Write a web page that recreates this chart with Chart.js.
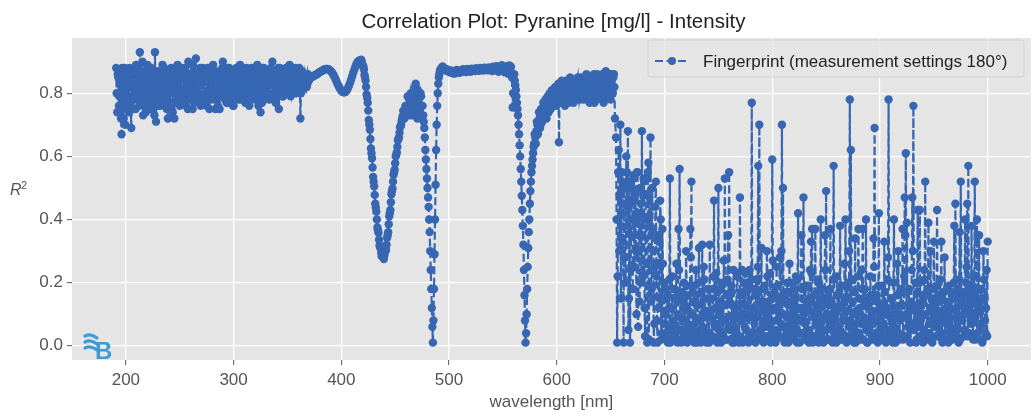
<!DOCTYPE html>
<html>
<head>
<meta charset="utf-8">
<title>Correlation Plot: Pyranine [mg/l] - Intensity</title>
<script src="https://cdn.jsdelivr.net/npm/chart.js@4.4.0/dist/chart.umd.min.js"></script>
<style>
  html, body { margin: 0; padding: 0; background: #fff; }
  #wrap { width: 1035px; height: 419px; }
</style>
</head>
<body>
<div id="wrap"><canvas id="chartCorr" width="1035" height="419"></canvas></div>
<script>
const chartTitle = 'Correlation Plot: Pyranine [mg/l] - Intensity';
const seriesLabel = 'Fingerprint (measurement settings 180°)';
const xLabel = 'wavelength [nm]';
const xTicks = [200, 300, 400, 500, 600, 700, 800, 900, 1000];
const yTicks = [0.0, 0.2, 0.4, 0.6, 0.8];

// R². Each stretch: first wavelength, then one value per nm.
// The "half" stretches sit on the .5 nm positions in between.
const startA = 191; // noisy band 191-371 nm
const r2A = [
  0.88, 0.74, 0.85, 0.79, 0.87, 0.67, 0.83, 0.72, 0.88, 0.76, 0.81, 0.86, 0.74, 0.84, 0.69, 0.87, 0.78, 0.82, 0.75, 0.88,
  0.80, 0.85, 0.93, 0.77, 0.84, 0.73, 0.87, 0.81, 0.76, 0.89, 0.79, 0.84, 0.75, 0.86, 0.82, 0.78, 0.93, 0.71, 0.85, 0.80,
  0.87, 0.76, 0.83, 0.89, 0.78, 0.84, 0.81, 0.75, 0.72, 0.86, 0.80, 0.88, 0.77, 0.83, 0.72, 0.85, 0.79, 0.89, 0.82, 0.76,
  0.84, 0.88, 0.78, 0.81, 0.86, 0.76, 0.83, 0.90, 0.79, 0.85, 0.80, 0.75, 0.87, 0.82, 0.91, 0.78, 0.84, 0.80, 0.88, 0.77,
  0.83, 0.86, 0.79, 0.84, 0.76, 0.88, 0.81, 0.85, 0.78, 0.83, 0.89, 0.80, 0.75, 0.86, 0.82, 0.79, 0.75, 0.87, 0.84, 0.90,
  0.81, 0.78, 0.86, 0.83, 0.77, 0.88, 0.80, 0.85, 0.82, 0.76, 0.87, 0.83, 0.79, 0.86, 0.81, 0.89, 0.78, 0.84, 0.80, 0.85,
  0.77, 0.88, 0.82, 0.79, 0.86, 0.83, 0.78, 0.87, 0.81, 0.85, 0.80, 0.89, 0.76, 0.84, 0.74, 0.86, 0.82, 0.88, 0.79, 0.84,
  0.81, 0.87, 0.78, 0.85, 0.83, 0.90, 0.80, 0.84, 0.77, 0.86, 0.82, 0.75, 0.88, 0.81, 0.85, 0.79, 0.87, 0.83, 0.80, 0.86,
  0.82, 0.89, 0.79, 0.85, 0.81, 0.87, 0.83, 0.80, 0.86, 0.82, 0.88, 0.72, 0.84, 0.81, 0.86, 0.83, 0.85, 0.82, 0.86, 0.84, 0.85
];
const startAHalf = 191.5;
const r2AHalf = [
  0.80, 0.86, 0.76, 0.83, 0.72, 0.88, 0.79, 0.84, 0.70, 0.86, 0.78, 0.83, 0.88, 0.77, 0.82, 0.75, 0.86, 0.80, 0.89, 0.78,
  0.84, 0.76, 0.87, 0.81, 0.90, 0.78, 0.83, 0.74, 0.86, 0.80, 0.84, 0.77, 0.88, 0.79, 0.85, 0.73, 0.82, 0.87, 0.76, 0.84,
  0.79, 0.86, 0.81, 0.77, 0.88, 0.80, 0.85, 0.78, 0.83, 0.76, 0.87, 0.82, 0.74, 0.86, 0.81, 0.79, 0.88, 0.77, 0.84, 0.86,
  0.80, 0.77, 0.85, 0.88, 0.79, 0.83, 0.75, 0.86, 0.81, 0.78, 0.89, 0.83, 0.77, 0.86, 0.80, 0.87, 0.79, 0.85, 0.76, 0.84,
  0.88, 0.79, 0.84, 0.77, 0.86, 0.81, 0.75, 0.83, 0.88, 0.80, 0.85, 0.78, 0.87, 0.82, 0.76, 0.85, 0.83, 0.79, 0.88, 0.80,
  0.86, 0.83, 0.77, 0.88, 0.81, 0.84, 0.78, 0.87, 0.76, 0.85, 0.80, 0.88, 0.83, 0.78, 0.86, 0.82, 0.87, 0.79, 0.85, 0.81,
  0.84, 0.80, 0.87, 0.76, 0.83, 0.88, 0.81, 0.79, 0.86, 0.78, 0.84, 0.82, 0.87, 0.80, 0.85, 0.77, 0.88, 0.83, 0.86, 0.79,
  0.86, 0.80, 0.84, 0.88, 0.79, 0.83, 0.86, 0.78, 0.85, 0.81, 0.88, 0.80, 0.84, 0.86, 0.79, 0.85, 0.82, 0.88, 0.84, 0.80,
  0.86, 0.83, 0.87, 0.80, 0.85, 0.82, 0.88, 0.84, 0.81, 0.86, 0.83, 0.80, 0.87, 0.84, 0.82, 0.86, 0.84, 0.83, 0.85, 0.845, 0.85
];

const startB = 372; // smooth part with the three dips, 372-654 nm
const r2B = [
  // 372-389
  0.850, 0.852, 0.854, 0.856, 0.858, 0.860, 0.862, 0.865, 0.867, 0.869, 0.871, 0.873, 0.875, 0.876, 0.877, 0.877, 0.876, 0.874,
  // 390-404
  0.871, 0.867, 0.862, 0.856, 0.849, 0.841, 0.833, 0.826, 0.819, 0.813, 0.808, 0.805, 0.803, 0.803, 0.805,
  // 405-420
  0.809, 0.815, 0.823, 0.832, 0.842, 0.853, 0.864, 0.874, 0.884, 0.892, 0.898, 0.902, 0.904, 0.903, 0.898, 0.888,
  // 421-440
  0.875, 0.850, 0.820, 0.785, 0.745, 0.700, 0.655, 0.610, 0.565, 0.520, 0.478, 0.438, 0.400, 0.366, 0.336, 0.312, 0.294, 0.283, 0.280, 0.287,
  // 441-460
  0.300, 0.320, 0.350, 0.385, 0.420, 0.455, 0.490, 0.520, 0.550, 0.578, 0.605, 0.630, 0.655, 0.675, 0.695, 0.712, 0.728, 0.742, 0.735, 0.755,
  // 461-480
  0.76, 0.74, 0.78, 0.75, 0.79, 0.73, 0.80, 0.76, 0.83, 0.74, 0.81, 0.77, 0.75, 0.79, 0.72, 0.73, 0.69, 0.62, 0.56, 0.50,
  // 481-500
  0.44, 0.36, 0.24, 0.12, 0.01, 0.18, 0.40, 0.62, 0.76, 0.83, 0.86, 0.875, 0.88, 0.885, 0.88, 0.878, 0.872, 0.876, 0.87, 0.868,
  // 501-530
  0.866, 0.872, 0.864, 0.870, 0.862, 0.868, 0.874, 0.866, 0.871, 0.865, 0.873, 0.868, 0.876, 0.869, 0.874,
  0.867, 0.877, 0.871, 0.875, 0.868, 0.878, 0.872, 0.876, 0.870, 0.879, 0.873, 0.877, 0.871, 0.880, 0.874,
  // 531-560
  0.878, 0.872, 0.881, 0.875, 0.879, 0.873, 0.882, 0.876, 0.880, 0.870, 0.884, 0.877, 0.873, 0.886, 0.879,
  0.868, 0.883, 0.876, 0.889, 0.872, 0.880, 0.866, 0.885, 0.874, 0.862, 0.888, 0.870, 0.855, 0.755, 0.845,
  // 561-580
  0.84, 0.81, 0.77, 0.73, 0.67, 0.60, 0.52, 0.43, 0.32, 0.16, 0.01, 0.10, 0.25, 0.36, 0.45, 0.52, 0.57, 0.61, 0.64, 0.66,
  // 581-600
  0.68, 0.70, 0.69, 0.72, 0.70, 0.74, 0.72, 0.75, 0.73, 0.76, 0.74, 0.77, 0.75, 0.78, 0.76, 0.79, 0.77, 0.80, 0.78, 0.79,
  // 601-620
  0.77, 0.645, 0.80, 0.78, 0.81, 0.77, 0.80, 0.78, 0.82, 0.79, 0.77, 0.81, 0.79, 0.83, 0.78, 0.80, 0.82, 0.79, 0.84, 0.80,
  // 621-640
  0.78, 0.82, 0.80, 0.84, 0.79, 0.81, 0.83, 0.78, 0.85, 0.80, 0.82, 0.79, 0.84, 0.81, 0.77, 0.83, 0.80, 0.85, 0.79, 0.82,
  // 641-654
  0.84, 0.78, 0.86, 0.81, 0.79, 0.85, 0.80, 0.83, 0.86, 0.78, 0.84, 0.80, 0.86, 0.72
];
const startBHalf0 = 418.5; // the wide V around 438 nm
const r2BHalf0 = [
  0.906, 0.890, 0.884, 0.858, 0.840,
  0.796, 0.770, 0.715, 0.684, 0.625,
  0.594, 0.535, 0.505, 0.450, 0.425,
  0.375, 0.358, 0.318, 0.308, 0.284,
  0.290, 0.275, 0.298, 0.304, 0.342,
  0.360, 0.410, 0.430, 0.480, 0.498,
  0.542, 0.558, 0.600, 0.612, 0.650,
  0.660, 0.692, 0.700
];
const startBHalf1 = 456.5; // hump and first sharp dip
const r2BHalf1 = [
  0.72, 0.745, 0.72, 0.76, 0.73,
  0.79, 0.76, 0.73, 0.80, 0.76, 0.78, 0.74, 0.82, 0.77, 0.72,
  0.79, 0.74, 0.80, 0.73, 0.76, 0.71, 0.66, 0.59, 0.53, 0.47,
  0.40, 0.30, 0.18, 0.06, 0.08, 0.29, 0.51, 0.70, 0.80, 0.85, 0.87
];
const startBHalf2 = 555.5; // second dip and the band up to 654 nm
const r2BHalf2 = [
  0.878, 0.866, 0.884, 0.850, 0.80, 0.86, 0.825, 0.79, 0.75, 0.70,
  0.635, 0.56, 0.475, 0.38, 0.24, 0.08, 0.04, 0.18, 0.31, 0.40,
  0.49, 0.55, 0.59, 0.63, 0.67, 0.64, 0.71, 0.67, 0.74, 0.69,
  0.75, 0.71, 0.77, 0.73, 0.78, 0.72, 0.79, 0.74, 0.80, 0.75,
  0.81, 0.76, 0.79, 0.82, 0.76, 0.80, 0.83, 0.77, 0.81, 0.84,
  0.79, 0.82, 0.76, 0.84, 0.80, 0.83, 0.78, 0.85, 0.80, 0.82,
  0.77, 0.84, 0.81, 0.78, 0.85, 0.82, 0.79, 0.85, 0.81, 0.78,
  0.84, 0.80, 0.86, 0.79, 0.83, 0.77, 0.85, 0.81, 0.79, 0.86,
  0.81, 0.78, 0.86, 0.82, 0.79, 0.85, 0.80, 0.86, 0.77, 0.84,
  0.87, 0.81, 0.85, 0.79, 0.83, 0.86, 0.80, 0.85, 0.82
];

const startC = 655; // noisy tail 655-1000 nm
const r2C = [
  // 655-700
  0.66, 0.01, 0.55, 0.30, 0.70, 0.42, 0.52, 0.01, 0.45, 0.20, 0.55, 0.68, 0.15, 0.01, 0.35, 0.50,
  0.54, 0.25, 0.48, 0.10, 0.55, 0.30, 0.14, 0.45, 0.68, 0.22, 0.52, 0.03, 0.40, 0.01, 0.58, 0.47,
  0.66, 0.18, 0.36, 0.01, 0.25, 0.52, 0.08, 0.35, 0.12, 0.46, 0.02, 0.37, 0.07, 0.20,
  // 701-1000
  0.03, 0.18, 0.01, 0.12, 0.53, 0.06, 0.22, 0.02, 0.15, 0.04,
  0.26, 0.01, 0.37, 0.56, 0.05, 0.14, 0.02, 0.20, 0.08, 0.30,
  0.01, 0.16, 0.04, 0.37, 0.52, 0.03, 0.19, 0.07, 0.24, 0.01,
  0.13, 0.31, 0.05, 0.17, 0.32, 0.02, 0.21, 0.09, 0.01, 0.15,
  0.04, 0.32, 0.11, 0.02, 0.18, 0.46, 0.06, 0.23, 0.01, 0.50,
  0.14, 0.03, 0.20, 0.08, 0.27, 0.53, 0.02, 0.16, 0.35, 0.55,
  0.05, 0.19, 0.01, 0.24, 0.10, 0.03, 0.22, 0.13, 0.01, 0.47,
  0.08, 0.24, 0.02, 0.17, 0.23, 0.05, 0.20, 0.01, 0.24, 0.11,
  0.77, 0.04, 0.18, 0.02, 0.21, 0.09, 0.57, 0.70, 0.03, 0.31,
  0.12, 0.01, 0.19, 0.06, 0.30, 0.14, 0.02, 0.23, 0.08, 0.59,
  0.04, 0.17, 0.01, 0.25, 0.11, 0.03, 0.28, 0.07, 0.70, 0.50,
  0.02, 0.15, 0.05, 0.20, 0.01, 0.26, 0.09, 0.14, 0.03, 0.18,
  0.06, 0.22, 0.01, 0.42, 0.12, 0.04, 0.35, 0.08, 0.47, 0.02,
  0.19, 0.05, 0.13, 0.01, 0.24, 0.33, 0.37, 0.03, 0.16, 0.37,
  0.07, 0.21, 0.01, 0.12, 0.40, 0.04, 0.18, 0.09, 0.35, 0.49,
  0.02, 0.16, 0.06, 0.37, 0.14, 0.01, 0.57, 0.10, 0.03, 0.22,
  0.05, 0.17, 0.38, 0.02, 0.13, 0.08, 0.26, 0.40, 0.01, 0.19,
  0.06, 0.78, 0.62, 0.04, 0.21, 0.01, 0.34, 0.11, 0.03, 0.37,
  0.15, 0.02, 0.24, 0.37, 0.07, 0.18, 0.40, 0.01, 0.13, 0.05,
  0.22, 0.09, 0.02, 0.34, 0.69, 0.04, 0.16, 0.01, 0.42, 0.12,
  0.06, 0.19, 0.02, 0.33, 0.10, 0.04, 0.21, 0.78, 0.03, 0.15,
  0.08, 0.01, 0.40, 0.12, 0.05, 0.26, 0.30, 0.02, 0.17, 0.09,
  0.37, 0.03, 0.47, 0.61, 0.39, 0.06, 0.18, 0.01, 0.14, 0.47,
  0.76, 0.05, 0.20, 0.02, 0.43, 0.12, 0.43, 0.08, 0.16, 0.01,
  0.24, 0.52, 0.04, 0.18, 0.39, 0.07, 0.30, 0.02, 0.14, 0.33,
  0.10, 0.03, 0.43, 0.16, 0.05, 0.21, 0.33, 0.01, 0.17, 0.28,
  0.08, 0.14, 0.03, 0.19, 0.06, 0.17, 0.02, 0.15, 0.38, 0.45,
  0.05, 0.18, 0.01, 0.36, 0.52, 0.09, 0.16, 0.03, 0.40, 0.20,
  0.45, 0.57, 0.04, 0.17, 0.38, 0.08, 0.22, 0.52, 0.02, 0.40,
  0.13, 0.35, 0.06, 0.18, 0.01, 0.30, 0.15, 0.04, 0.24, 0.33
];
const startCHalf = 655.5;
const r2CHalf = [
  // 655.5-699.5
  0.40, 0.22, 0.62, 0.48, 0.15, 0.55, 0.33, 0.50, 0.28, 0.60, 0.38, 0.05, 0.52, 0.24, 0.46,
  0.18, 0.53, 0.40, 0.30, 0.55, 0.06, 0.42, 0.50, 0.20, 0.35, 0.53, 0.12, 0.48, 0.26, 0.55,
  0.02, 0.38, 0.14, 0.50, 0.30, 0.07, 0.44, 0.22, 0.01, 0.33, 0.15, 0.40, 0.04, 0.26, 0.11,
  // 700.5-999.5
  0.10, 0.02, 0.16, 0.05, 0.21, 0.01, 0.12, 0.08, 0.03, 0.18,
  0.06, 0.15, 0.02, 0.24, 0.09, 0.01, 0.17, 0.04, 0.13, 0.02,
  0.19, 0.07, 0.11, 0.02, 0.28, 0.05, 0.14, 0.01, 0.09, 0.16,
  0.03, 0.20, 0.08, 0.01, 0.13, 0.06, 0.25, 0.02, 0.11, 0.04,
  0.18, 0.01, 0.09, 0.15, 0.03, 0.22, 0.07, 0.12, 0.02, 0.17,
  0.05, 0.10, 0.01, 0.19, 0.04, 0.13, 0.08, 0.02, 0.21, 0.06,
  0.14, 0.02, 0.17, 0.07, 0.01, 0.12, 0.05, 0.23, 0.09, 0.03,
  0.16, 0.10, 0.01, 0.20, 0.06, 0.13, 0.02, 0.18, 0.04, 0.09,
  0.21, 0.03, 0.12, 0.07, 0.01, 0.16, 0.25, 0.10, 0.05, 0.14,
  0.02, 0.18, 0.08, 0.13, 0.03, 0.22, 0.06, 0.11, 0.01, 0.15,
  0.27, 0.05, 0.12, 0.02, 0.19, 0.08, 0.14, 0.03, 0.30, 0.10,
  0.06, 0.01, 0.17, 0.09, 0.04, 0.13, 0.02, 0.20, 0.07, 0.11,
  0.02, 0.15, 0.05, 0.21, 0.08, 0.01, 0.12, 0.18, 0.04, 0.10,
  0.07, 0.14, 0.02, 0.19, 0.05, 0.11, 0.23, 0.01, 0.09, 0.16,
  0.03, 0.12, 0.06, 0.20, 0.02, 0.15, 0.08, 0.01, 0.13, 0.24,
  0.05, 0.10, 0.02, 0.18, 0.07, 0.13, 0.21, 0.04, 0.11, 0.01,
  0.16, 0.06, 0.12, 0.02, 0.19, 0.04, 0.09, 0.15, 0.03, 0.11,
  0.20, 0.30, 0.08, 0.02, 0.14, 0.05, 0.17, 0.01, 0.10, 0.22,
  0.04, 0.12, 0.07, 0.18, 0.02, 0.09, 0.15, 0.05, 0.01, 0.13,
  0.06, 0.16, 0.03, 0.11, 0.25, 0.02, 0.08, 0.14, 0.19, 0.04,
  0.10, 0.02, 0.13, 0.07, 0.17, 0.01, 0.12, 0.28, 0.05, 0.09,
  0.03, 0.15, 0.20, 0.06, 0.01, 0.11, 0.16, 0.04, 0.08, 0.18,
  0.13, 0.02, 0.22, 0.35, 0.10, 0.03, 0.08, 0.12, 0.05, 0.24,
  0.30, 0.07, 0.11, 0.01, 0.17, 0.06, 0.20, 0.03, 0.09, 0.14,
  0.05, 0.21, 0.10, 0.02, 0.16, 0.04, 0.12, 0.08, 0.01, 0.18,
  0.06, 0.13, 0.19, 0.03, 0.11, 0.08, 0.15, 0.02, 0.10, 0.17,
  0.04, 0.12, 0.07, 0.01, 0.14, 0.09, 0.05, 0.16, 0.20, 0.03,
  0.11, 0.06, 0.15, 0.21, 0.02, 0.13, 0.08, 0.17, 0.05, 0.12,
  0.25, 0.03, 0.10, 0.14, 0.07, 0.19, 0.02, 0.16, 0.09, 0.13,
  0.04, 0.18, 0.11, 0.06, 0.15, 0.02, 0.21, 0.08, 0.12, 0.03
];

const BLUE = '#3767b3';
const FONT = '"Liberation Sans", Arial, sans-serif';
const GREY = '#555555';

document.addEventListener("DOMContentLoaded", () => {
    const stretches = [
        [startA, r2A], [startAHalf, r2AHalf],
        [startB, r2B], [startBHalf0, r2BHalf0], [startBHalf1, r2BHalf1], [startBHalf2, r2BHalf2],
        [startC, r2C], [startCHalf, r2CHalf]
    ];
    const points = [];
    stretches.forEach(([start, vals]) => {
        vals.forEach((v, i) => points.push({ x: start + i, y: v }));
    });
    points.sort((p, q) => p.x - q.x);

    // grey panel behind the grid (ggplot look)
    const panelBg = {
        id: 'panelBg',
        beforeDraw(chart) {
            const { ctx, chartArea: a } = chart;
            ctx.save();
            ctx.fillStyle = '#fff';
            ctx.fillRect(0, 0, chart.width, chart.height);
            ctx.fillStyle = '#e5e5e5';
            ctx.fillRect(a.left, a.top, a.right - a.left, a.bottom - a.top);
            ctx.restore();
        }
    };

    // title, axis labels, legend box and the small logo
    const decor = {
        id: 'decor',
        afterDraw(chart) {
            const { ctx, chartArea: a } = chart;
            const cx = (a.left + a.right) / 2;
            ctx.save();
            ctx.textBaseline = 'alphabetic';

            ctx.fillStyle = '#222';
            ctx.font = '20.5px ' + FONT;
            ctx.textAlign = 'center';
            ctx.fillText(chartTitle, cx + 2, 28);

            ctx.fillStyle = GREY;
            ctx.font = '17px ' + FONT;
            ctx.fillText(xLabel, cx, 407);

            ctx.textAlign = 'left';
            ctx.font = 'italic 16px ' + FONT;
            ctx.fillText('R', 10, 195);
            ctx.font = '11px ' + FONT;
            ctx.fillText('2', 21, 189);

            // legend
            const lx = 648, ly = 40, lw = 376, lh = 37;
            ctx.beginPath();
            ctx.roundRect(lx, ly, lw, lh, 3);
            ctx.fillStyle = 'rgba(229,229,229,0.8)';
            ctx.fill();
            ctx.strokeStyle = '#d2d2d2';
            ctx.lineWidth = 1;
            ctx.stroke();

            ctx.strokeStyle = BLUE;
            ctx.lineWidth = 2.2;
            ctx.setLineDash([8, 3.5]);
            ctx.beginPath();
            ctx.moveTo(655, 61);
            ctx.lineTo(689, 61);
            ctx.stroke();
            ctx.setLineDash([]);
            ctx.fillStyle = BLUE;
            ctx.beginPath();
            ctx.arc(672, 61, 4, 0, Math.PI * 2);
            ctx.fill();

            ctx.fillStyle = '#222';
            ctx.font = '17px ' + FONT;
            ctx.fillText(seriesLabel, 703, 67);

            // logo in the lower left corner
            ctx.strokeStyle = '#3d9bd6';
            ctx.lineWidth = 3.2;
            ctx.lineCap = 'round';
            [336, 342, 348].forEach(y => {
                ctx.beginPath();
                ctx.moveTo(85, y);
                ctx.quadraticCurveTo(91, y - 3, 97, y + 2);
                ctx.stroke();
            });
            ctx.fillStyle = '#3d9bd6';
            ctx.font = 'bold 24px ' + FONT;
            ctx.fillText('B', 95, 359);
            ctx.restore();
        }
    };

    const ctxCorr = document.getElementById("chartCorr");
    new Chart(ctxCorr.getContext("2d"), {
        type: 'line',
        data: {
            datasets: [{
                label: seriesLabel,
                data: points,
                borderColor: BLUE,
                backgroundColor: BLUE,
                borderWidth: 2.2,
                borderDash: [8, 3.5],
                pointRadius: 4.2,
                pointBorderWidth: 0,
                pointHoverRadius: 4.2,
                fill: false,
                tension: 0
            }]
        },
        options: {
            responsive: false,
            animation: false,
            devicePixelRatio: 1,
            events: [],
            layout: { padding: { top: 38, right: 3, left: 0, bottom: 0 } },
            plugins: { legend: { display: false }, tooltip: { enabled: false } },
            scales: {
                x: {
                    type: 'linear',
                    min: 150,
                    max: 1040,
                    afterBuildTicks: s => { s.ticks = xTicks.map(v => ({ value: v })); },
                    afterFit: s => { s.height = 59; },
                    border: { display: false },
                    grid: { color: '#ffffff', lineWidth: 1.3, tickColor: GREY, tickLength: 5, tickWidth: 1 },
                    ticks: { color: GREY, font: { family: FONT, size: 17 }, padding: 5, maxRotation: 0, autoSkip: false,
                             callback: v => String(v) }
                },
                y: {
                    min: -0.045,
                    max: 0.975,
                    afterBuildTicks: s => { s.ticks = yTicks.map(v => ({ value: v })); },
                    afterFit: s => { s.width = 72; },
                    border: { display: false },
                    grid: { color: '#ffffff', lineWidth: 1.3, tickColor: GREY, tickLength: 5, tickWidth: 1 },
                    ticks: { color: GREY, font: { family: FONT, size: 17 }, padding: 4,
                             callback: v => v.toFixed(1) }
                }
            }
        },
        plugins: [panelBg, decor]
    });
});
</script>
</body>
</html>
